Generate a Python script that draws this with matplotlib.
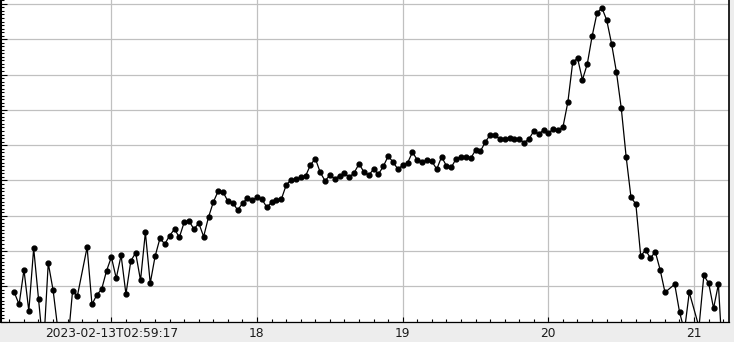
import numpy as np
import matplotlib
matplotlib.use("Agg")
import matplotlib.pyplot as plt
from matplotlib.ticker import MultipleLocator, FixedLocator, FixedFormatter

# sampling: one reading every 48 minutes, first one at day 16.334
T_START = 16.334
SAMPLES_PER_DAY = 30

# readings (nan = missing sample)
VALUES = [
    8.3, 4.9, 14.7, 3.0, 20.8, 6.4, -8.0, 16.6, 8.9, -2.4,
    -6.6, -6.6, 8.6, 7.3, np.nan, 21.1, 4.9, 7.6, 9.2, 14.4,
    18.3, 12.3, 18.8, 7.8, 17.2, 19.5, 11.7, 25.3, 10.9, 18.5,
    23.6, 22.0, 24.4, 26.2, 23.9, 28.2, 28.5, 26.2, 27.9, 24.1,
    29.6, 33.9, 37.0, 36.7, 34.1, 33.7, 31.6, 33.5, 35.0, 34.4,
    35.2, 34.7, 32.4, 33.8, 34.4, 34.7, 38.7, 40.2, 40.3, 40.9,
    41.3, 44.4, 46.2, 42.3, 39.9, 41.5, 40.5, 41.3, 42.0, 40.9,
    42.2, 44.7, 42.4, 41.5, 43.2, 41.8, 44.0, 46.9, 45.2, 43.2,
    44.3, 45.0, 48.0, 45.8, 45.2, 45.7, 45.4, 43.2, 46.7, 44.1,
    43.7, 46.2, 46.6, 46.6, 46.3, 48.6, 48.3, 50.9, 52.9, 52.8,
    51.7, 51.7, 52.0, 51.7, 51.7, 50.7, 51.8, 54.0, 53.1, 54.3,
    53.4, 54.6, 54.2, 55.2, 62.2, 73.5, 74.6, 68.5, 73.0, 80.9,
    87.4, 88.9, 85.4, 78.7, 70.7, 60.4, 46.7, 35.2, 33.3, 18.6,
    20.3, 18.0, 19.8, 14.7, 8.3, np.nan, 10.6, 2.7, -2.6, 8.3,
    np.nan, -1.5, 13.1, 10.9, 3.8, 10.6, -13.7,
]

TICK_DAYS = [17, 18, 19, 20, 21]
TICK_LABELS = ["2023-02-13T02:59:17", "18", "19", "20", "21"]

vals = np.array(VALUES, dtype=float)
t = T_START + np.arange(len(vals)) / SAMPLES_PER_DAY
ok = ~np.isnan(vals)

W, H = 734, 342
fig = plt.figure(figsize=(W / 100, H / 100), dpi=100, facecolor="#ededed")
ax = fig.add_axes([1 / W, 20.3 / H, 728 / W, 321.7 / H])
ax.set_facecolor("white")

ax.plot(t[ok], vals[ok], color="black", lw=0.9, marker="o",
        markersize=3.5, markerfacecolor="black", markeredgecolor="black",
        zorder=3)

ax.set_xlim(16.243, 21.240)
ax.set_ylim(0, 91.1)

ax.xaxis.set_major_locator(FixedLocator(TICK_DAYS))
ax.xaxis.set_major_formatter(FixedFormatter(TICK_LABELS))
ax.xaxis.set_minor_locator(MultipleLocator(0.1))
ax.yaxis.set_major_locator(MultipleLocator(10))
ax.yaxis.set_minor_locator(MultipleLocator(1))
ax.set_yticklabels([])

ax.grid(True, which="major", color="#c0c0c0", lw=0.9)
ax.set_axisbelow(True)

ax.tick_params(axis="x", which="major", direction="in", length=3.5, width=0.8,
               labelsize=8.8, labelcolor="#1a1a1a", pad=3.5)
ax.tick_params(axis="x", which="minor", direction="in", length=2, width=0.8)
ax.tick_params(axis="y", which="major", direction="in", length=4, width=0.8,
               left=True, right=False)
ax.tick_params(axis="y", which="minor", direction="in", length=2.3, width=0.8)

ax.spines["top"].set_visible(False)
ax.spines["left"].set_linewidth(1.5)
ax.spines["right"].set_linewidth(1.2)
ax.spines["bottom"].set_linewidth(0.9)

fig.savefig("out.png", dpi=100, facecolor=fig.get_facecolor())
